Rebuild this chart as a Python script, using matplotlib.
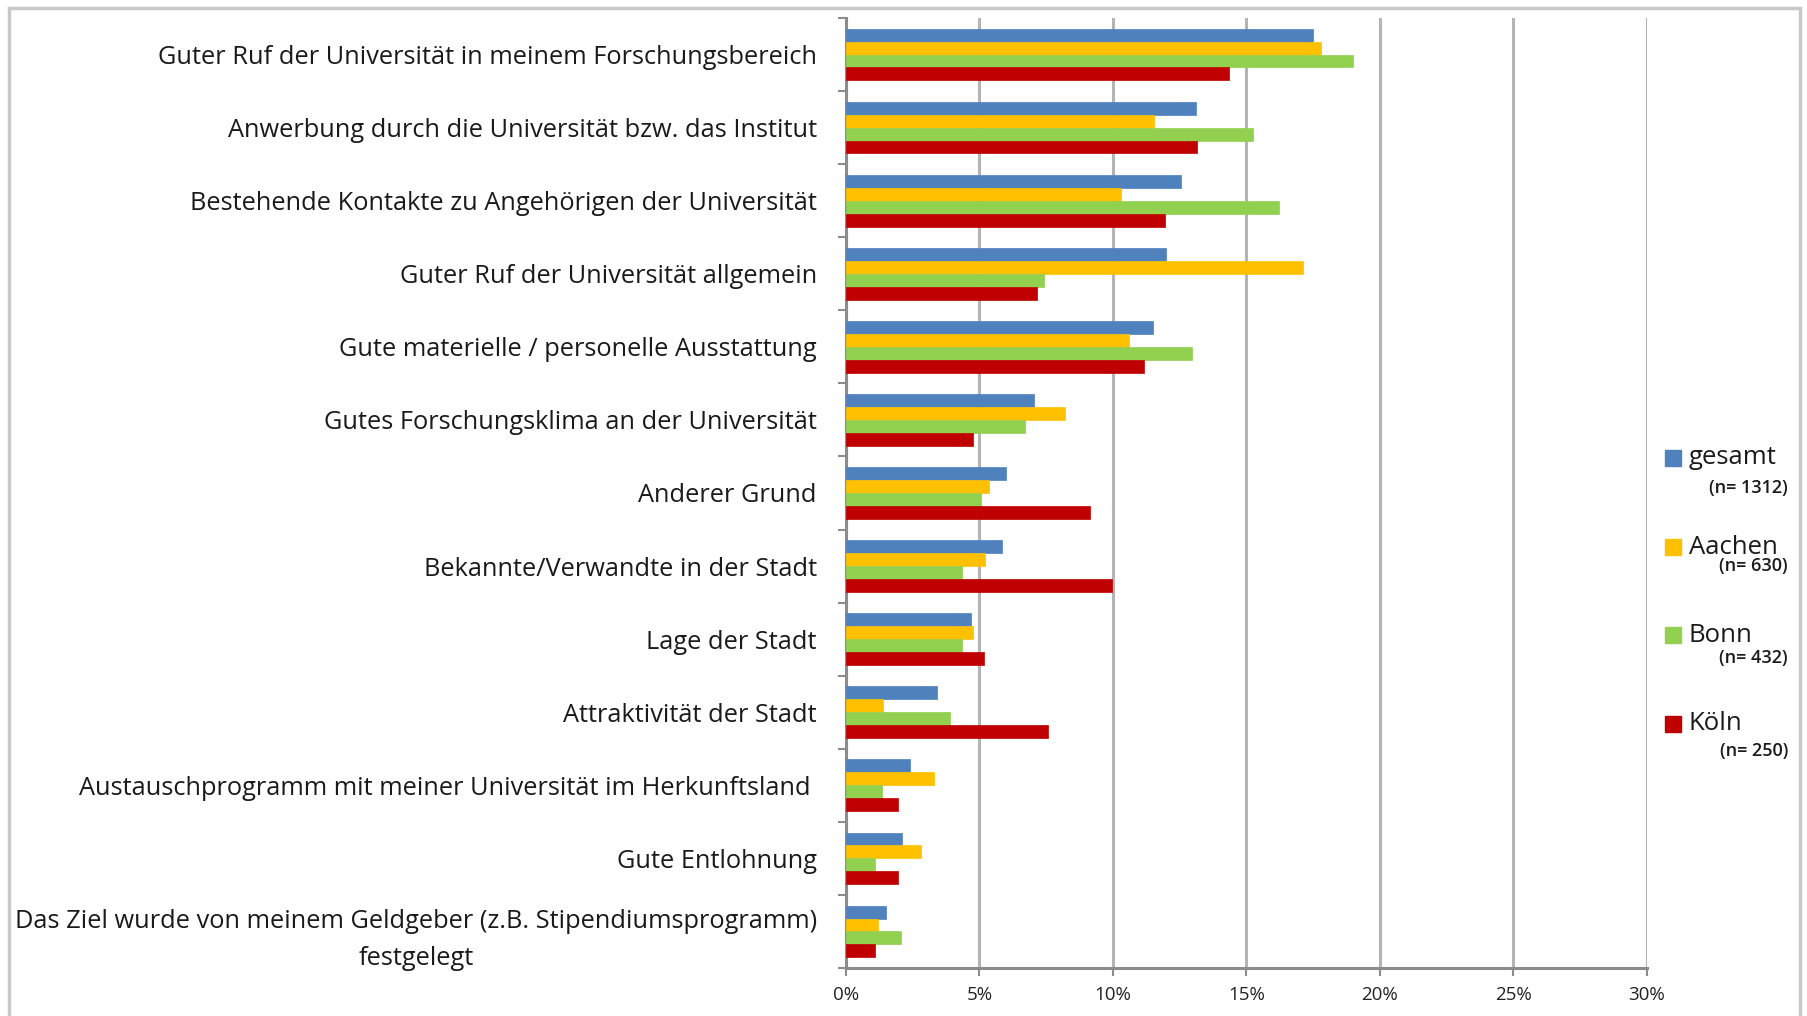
import matplotlib
matplotlib.use("Agg")
import matplotlib.pyplot as plt
from matplotlib.patches import Rectangle
import numpy as np

categories = [
    "Guter Ruf der Universität in meinem Forschungsbereich",
    "Anwerbung durch die Universität bzw. das Institut",
    "Bestehende Kontakte zu Angehörigen der Universität",
    "Guter Ruf der Universität allgemein",
    "Gute materielle / personelle Ausstattung",
    "Gutes Forschungsklima an der Universität",
    "Anderer Grund",
    "Bekannte/Verwandte in der Stadt",
    "Lage der Stadt",
    "Attraktivität der Stadt",
    "Austauschprogramm mit meiner Universität im Herkunftsland ",
    "Gute Entlohnung",
    "Das Ziel wurde von meinem Geldgeber (z.B. Stipendiumsprogramm)\nfestgelegt",
]
gesamt = [17.5, 13.1, 12.55, 12.0, 11.5, 7.05, 6.0, 5.85, 4.7, 3.4, 2.4, 2.1, 1.5]
aachen = [17.8, 11.55, 10.3, 17.1, 10.6, 8.2, 5.35, 5.2, 4.75, 1.4, 3.3, 2.8, 1.2]
bonn = [19.0, 15.25, 16.2, 7.4, 12.95, 6.7, 5.05, 4.35, 4.35, 3.9, 1.35, 1.1, 2.05]
koeln = [14.35, 13.15, 11.95, 7.15, 11.15, 4.75, 9.15, 9.95, 5.15, 7.55, 1.95, 1.95, 1.1]
series_names = ["gesamt", "Aachen", "Bonn", "Köln"]
series_n = ["(n= 1312)", "(n= 630)", "(n= 432)", "(n= 250)"]
colors = ["#4F81BD", "#FFC000", "#92D050", "#C00000"]
xticks = [0, 5, 10, 15, 20, 25, 30]
xticklabels = ["0%", "5%", "10%", "15%", "20%", "25%", "30%"]

plt.rcParams['font.family'] = ['Open Sans', 'DejaVu Sans']

W, H = 1808, 1016
fig = plt.figure(figsize=(W / 100, H / 100), dpi=100)
fig.patch.set_facecolor("white")

# outer frame
fig.add_artist(Rectangle((9 / W, -0.01), (1800 - 9) / W, 1.01 - 8 / H, transform=fig.transFigure,
                         fill=False, edgecolor="#c8c8c8", linewidth=2.5))

left, right, top, bottom = 846, 1647, 18, 968
ax = fig.add_axes([left / W, 1 - bottom / H, (right - left) / W, (bottom - top) / H])

y = np.arange(len(categories))
h = 0.177
all_series = [gesamt, aachen, bonn, koeln]
for k, (vals, c) in enumerate(zip(all_series, colors)):
    ax.barh(y + (k - 1.5) * h, vals, height=h, color=c, edgecolor=c, linewidth=0.5, zorder=3)

ax.set_xlim(0, 30)
ax.set_ylim(len(categories) - 0.5, -0.5)
ax.set_xticks(xticks)
ax.set_xticklabels(xticklabels, fontsize=13.5, color="#222222")
ax.tick_params(axis="x", direction="out", length=6, width=1.5, color="#8c8c8c", pad=7)
ax.xaxis.grid(True, color="#b4b4b4", linewidth=2.2, zorder=0)
ax.set_axisbelow(True)

ax.set_yticks(y)
ax.set_yticklabels(categories, fontsize=18.3, color="#1a1a1a")
for lab in ax.get_yticklabels():
    lab.set_multialignment("center")
    lab.set_linespacing(1.6)
ax.tick_params(axis="y", which="major", length=0, pad=21)
ax.set_yticks(np.arange(-0.5, len(categories), 1.0), minor=True)
ax.tick_params(axis="y", which="minor", direction="out", length=6, width=1.5, color="#8c8c8c")

for s in ["top", "right"]:
    ax.spines[s].set_visible(False)
ax.spines["left"].set_color("#8c8c8c")
ax.spines["left"].set_linewidth(2.2)
ax.spines["bottom"].set_color("#8c8c8c")
ax.spines["bottom"].set_linewidth(2.2)

# legend (manual)
leg_y = [458, 547, 635, 724]
n_y = [488, 566, 658, 751]
sq = 16
for name, n, c, yy, ny in zip(series_names, series_n, colors, leg_y, n_y):
    fig.add_artist(Rectangle(((1665) / W, 1 - (yy + sq / 2) / H), sq / W, sq / H,
                             transform=fig.transFigure, facecolor=c, edgecolor=c))
    fig.text(1689 / W, 1 - yy / H, name, fontsize=18.5, color="#1a1a1a", va="center", ha="left")
    fig.text(1788 / W, 1 - ny / H, n, fontsize=13, color="#1a1a1a", va="center", ha="right",
             fontweight="semibold")

fig.savefig("out.png", dpi=100, facecolor="white")
